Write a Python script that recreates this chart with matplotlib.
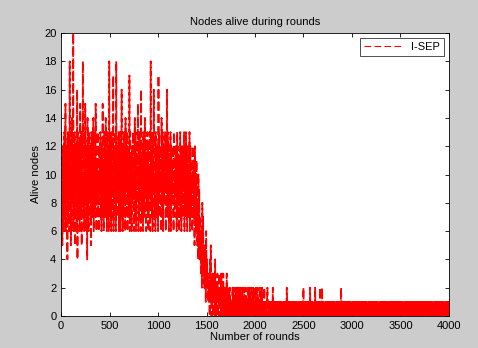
import matplotlib.pyplot as plt
import numpy as np

# alive nodes, one value every 4 rounds, coded 0-9 then a=10 ... k=20
rounds_step = 4
alive_code = (
    "d7a5c8b6d9" "7f6c8a4d7b" "c6i8d5a6e9" "8k6c7d5b9c" "6g4d7a9c6f"
    "b7d5c8i7a6" "d8f6b9c4e6" "a6d8c7b5d9" "7c9e6d8a7f" "c6b8d7a6c9"
    "8d7a6c9f7b" "6d8c7e9b6d" "a7c6i8d7b6" "d9a7h6c8d7" "b6i8c7a9d6"
    "c8d6b9g7c6" "a7d8c6e9b7" "d6c8a7h6d9" "7b6c8d9a6c" "e7d6b8c9f6"
    "a7d8c6g9b7" "c6d8a7e9c6" "b8d7c6a9d7" "6i8c7d6b9g" "c7a6d8b7c9"
    "6h8d7a9c6e" "b7d6c8a9d7" "6c9g7d8b6c" "a7d6c8b9c7" "6d8a7c9b6d"
    "7c8a6b9d7c" "6b8c7a9d6c" "a7d8b6c9a7" "8d6c7b9a6c" "9b7a5c8a6b"
    "7584a69475" "5362847352" "4251634231" "2130415203" "1302130412"
    "0213012031" "1203102130" "2012101302" "1020120101" "0121020101"
    "2010210120" "1021010201" "0120102010" "1021020101" "2010120102"
    "1020101201" "0102101020" "1010201010" "0121010101" "1010102010"
    "0101010101" "1010101010" "0101010101" "1021010101" "0101010101"
    "1010101010" "0101010101" "1010120101" "0101010101" "1020101010"
    "0101020101" "1010101021" "0102010101" "1010101010" "0101010101"
    "1010101010" "0101010101" "1020101010" "0101010101" "1010101010"
    "0101101010" "1010101010" "1010110101" "0101010101" "1010101010"
    "0110101010" "1010101010" "0101010110" "1010101010" "0101010101"
    "1011010101" "0101010101" "1010101010" "0101101010" "1010101010"
    "0101010101" "1010110101" "0101010101" "1010101010" "0110101010"
    "1010101010" "0101010101" "1010101101" "0101010101" "1010101010"
    "1"
)
alive = [int(c, 36) for c in alive_code]
rounds = np.arange(len(alive)) * rounds_step

x_ticks = [0, 500, 1000, 1500, 2000, 2500, 3000, 3500, 4000]
y_ticks = [0, 2, 4, 6, 8, 10, 12, 14, 16, 18, 20]

plt.rcParams['font.family'] = ['Liberation Sans', 'DejaVu Sans']
fig = plt.figure(figsize=(4.78, 3.48), dpi=100, facecolor='#cccccc')
ax = fig.add_axes([0.128, 0.092, 0.811, 0.813])
ax.plot(rounds, alive, '--', color='red', linewidth=1.3, dashes=(5, 1.8), label='I-SEP')
ax.set_xlim(0, 4000)
ax.set_ylim(0, 20)
ax.set_xticks(x_ticks)
ax.set_yticks(y_ticks)
ax.tick_params(direction='in', top=True, right=True, labelsize=8, length=3, width=0.6)
for s in ax.spines.values():
    s.set_linewidth(0.6)
ax.set_title('Nodes alive during rounds', fontsize=8, pad=6)
ax.set_xlabel('Number of rounds', fontsize=8, labelpad=1)
ax.set_ylabel('Alive nodes', fontsize=8, labelpad=2)
leg = ax.legend(loc='upper right', fontsize=8, fancybox=False, edgecolor='black',
                handlelength=3.4, borderaxespad=0.4)
leg.get_frame().set_linewidth(0.6)
leg.get_lines()[0].set_linewidth(0.8)
leg.get_lines()[0].set_dashes((6, 3))
fig.savefig('out.png', dpi=100, facecolor=fig.get_facecolor())
